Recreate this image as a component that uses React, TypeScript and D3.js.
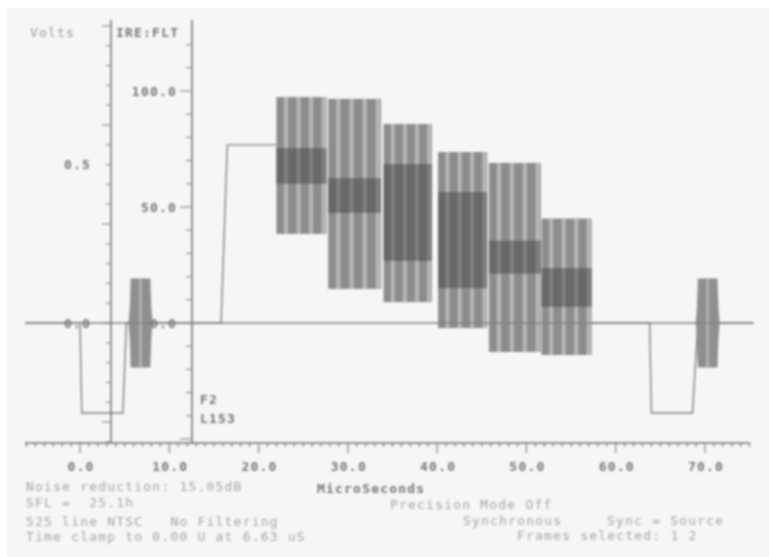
import React from "react";
import * as d3 from "d3";

const W = 769, H = 557;
const xTickValues = [0, 10, 20, 30, 40, 50, 60, 70];
const voltTicks = [0.5, 0];
const ireTicks = [100, 50, 0];
// stair-step bars: start, end (µs), outer low/high and inner low/high (IRE)
const barStart = [22.0, 27.8, 34.0, 40.1, 45.8, 51.7];
const barEnd = [27.6, 33.7, 39.4, 45.6, 51.6, 57.3];
const barTop = [97.4, 96.6, 85.8, 73.7, 69, 45];
const barBottom = [38.4, 14.7, 9, -2.2, -12.5, -13.8];
const darkTop = [75.4, 62.5, 68.5, 56.5, 35.5, 23.7];
const darkBottom = [60, 47.4, 26.7, 15, 21.3, 6.9];
// waveform in µs / volts; NaN marks the part hidden by the staircase
const traceX = [-6, 0, 0.2, 4.8, 5.2, 15.8, 16.5, 22, 40, 57.3, 63.8, 64, 68.6, 69.2, 75.5];
const traceV = [0, 0, -0.283, -0.283, 0, 0, 0.56, 0.56, NaN, 0, 0, -0.283, -0.283, 0, 0];
const burstCenters = [6.78, 70.3];
const burstHalfWidths = [1.1, 1.2, 1.35, 1.2, 1.1];
const burstLevels = [0.14, 0.05, 0, -0.05, -0.14];
const textItems: [string, number, number][] = [
  ["Volts", 30, 37], ["IRE:FLT", 116, 37], ["F2", 200, 404], ["L153", 200, 423],
  ["MicroSeconds", 317, 493], ["Noise reduction: 15.05dB", 26, 491], ["SFL =  25.1h", 26, 507],
  ["525 line NTSC   No Filtering", 26, 526], ["Time clamp to 0.00 U at 6.63 uS", 26, 541],
  ["Precision Mode Off", 390, 509], ["Synchronous", 463, 525], ["Sync = Source", 607, 525],
  ["Frames selected: 1 2", 517, 540],
];

const x = d3.scaleLinear().domain([0, 70]).range([80, 705]);
const ire = d3.scaleLinear().domain([0, 100]).range([323, 91]);
const volt = d3.scaleLinear().domain([0, 0.5]).range([323, 164]);
const traceLine = d3.line<number>()
  .defined((d) => !Number.isNaN(traceV[d]))
  .x((d) => x(traceX[d]))
  .y((d) => volt(traceV[d]));

const mono = "'DejaVu Sans Mono', monospace";

export default function App() {
  const minor = d3.range(-6, 76);
  const leftTicks = d3.range(-6, 16).map((i) => 323 - i * 19.8);
  const rightTicks = d3.range(-5, 13).map((i) => 323 - i * 23.2);
  return (
    <svg width={W} height={H} style={{ position: "absolute", left: 0, top: 0, background: "#fff" }}>
      <defs>
        <filter id="b1" x="-5%" y="-5%" width="110%" height="110%"><feGaussianBlur stdDeviation="1" /></filter>
        <filter id="b2" x="-5%" y="-5%" width="110%" height="110%"><feGaussianBlur stdDeviation="1.15" /></filter>
      </defs>
      <rect x={7} y={8} width={762} height={549} fill="#f6f6f6" />
      <g filter="url(#b1)">
        <path d={traceLine(d3.range(traceX.length)) ?? ""} fill="none" stroke="#808080" strokeWidth={1.4} />
        {/* bars */}
        {barStart.map((s, i) => {
          const x0 = x(s), x1 = x(barEnd[i]), stripes = d3.range(4), w = (x1 - x0) / 4;
          return (
            <g key={i}>
              <rect x={x0} y={ire(barTop[i])} width={x1 - x0} height={ire(barBottom[i]) - ire(barTop[i])} fill="#8c8c8c" />
              {stripes.map((k) => (
                <rect key={k} x={x0 + w * k + w * 0.62} y={ire(barTop[i])} width={w * 0.3} height={ire(barBottom[i]) - ire(barTop[i])} fill="#b8b8b8" />
              ))}
              <rect x={x0} y={ire(darkTop[i])} width={x1 - x0} height={ire(darkBottom[i]) - ire(darkTop[i])} fill="#676767" />
              {stripes.map((k) => (
                <rect key={k} x={x0 + w * k + w * 0.62} y={ire(darkTop[i])} width={w * 0.3} height={ire(darkBottom[i]) - ire(darkTop[i])} fill="#808080" />
              ))}
            </g>
          );
        })}
        {/* colour bursts */}
        {burstCenters.map((c) => {
          const pts: [number, number][] = [
            ...burstLevels.map((l, i) => [x(c + burstHalfWidths[i]), volt(l)] as [number, number]),
            ...burstLevels.map((l, i) => [x(c - burstHalfWidths[i]), volt(l)] as [number, number]).reverse(),
          ];
          return (
            <g key={c}>
              <polygon points={pts.map((p) => p.join(",")).join(" ")} fill="#8f8f8f" />
              <rect x={x(c) - 1.5} y={volt(0.14)} width={3} height={volt(-0.14) - volt(0.14)} fill="#b0b0b0" />
            </g>
          );
        })}
        {/* zero line */}
        <line x1={25} x2={752} y1={323} y2={323} stroke="#808080" strokeWidth={1.5} />
        {/* axes */}
        <line x1={111} x2={111} y1={20} y2={443} stroke="#707070" strokeWidth={1.5} />
        <line x1={192} x2={192} y1={20} y2={443} stroke="#707070" strokeWidth={1.5} />
        <line x1={25} x2={750} y1={443} y2={443} stroke="#707070" strokeWidth={1.4} />
        {leftTicks.map((y, i) => (
          <line key={i} x1={(i - 6) % 5 === 0 ? 102 : 106} x2={111} y1={y} y2={y} stroke="#888" strokeWidth={1.1} />
        ))}
        {rightTicks.map((y, i) => (
          <line key={i} x1={(i - 5) % 5 === 0 ? 180 : 186} x2={192} y1={y} y2={y} stroke="#888" strokeWidth={1.1} />
        ))}
        {minor.map((t) => (
          <line key={t} x1={x(t)} x2={x(t)} y1={443} y2={t % 10 === 0 ? 453 : 447} stroke="#777" strokeWidth={1.1} />
        ))}
      </g>
      {/* text */}
      <g filter="url(#b2)" fontFamily={mono} fontSize={13} letterSpacing={1.2} fontWeight={700}>
        {xTickValues.map((t) => (
          <text key={t} x={x(t) + 1} y={471} textAnchor="middle" fill="#777">{t.toFixed(1)}</text>
        ))}
        {voltTicks.map((t) => (
          <text key={t} x={91} y={volt(t) + 5} textAnchor="end" fill="#777">{t.toFixed(1)}</text>
        ))}
        {ireTicks.map((t) => (
          <text key={t} x={177} y={ire(t) + 5} textAnchor="end" fill="#777">{t.toFixed(1)}</text>
        ))}
        {textItems.map(([s, tx, ty]) => (
          <text key={s} x={tx} y={ty} fontWeight={ty > 480 && s !== "MicroSeconds" || s === "Volts" ? 400 : 700} fill={ty > 480 && s !== "MicroSeconds" ? "#a6a6a6" : s === "Volts" ? "#999" : "#777"} style={{ whiteSpace: "pre" }}>{s}</text>
        ))}
      </g>
    </svg>
  );
}
